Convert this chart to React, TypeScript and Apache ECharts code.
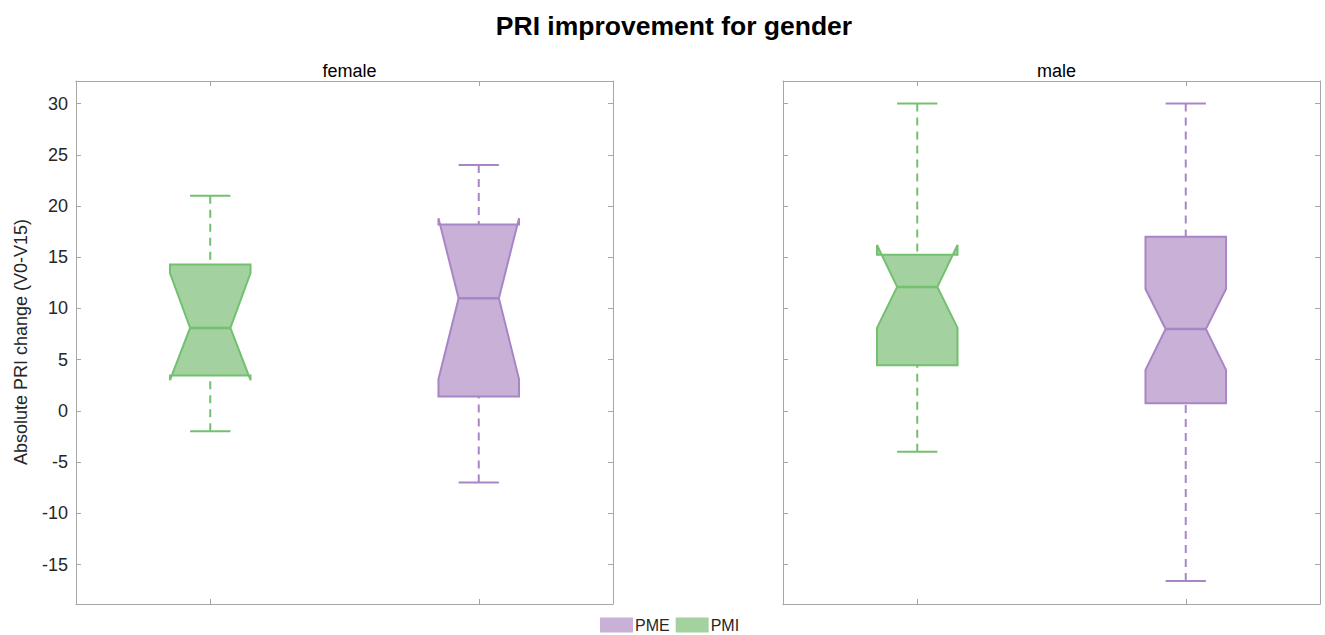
import React, { useEffect, useRef } from "react";
import * as echarts from "echarts";

// Box statistics: [whiskerLow, q1, notchLow, median, notchHigh, q3, whiskerHigh]
const groups = ["PMI", "PME"];
const panels = ["female", "male"];
const femalePMI = [-2, 3.45, 3.0, 8.1, 13.45, 14.3, 21];
const femalePME = [-7, 1.4, 3.1, 11.0, 18.8, 18.2, 24];
const malePMI = [-4, 4.45, 8.1, 12.1, 16.2, 15.25, 30];
const malePME = [-16.6, 0.75, 4.0, 8.0, 11.9, 17.0, 30];
const yMin = -18.85;
const yMax = 32.2;

const GREEN_FILL = "#a3d2a0";
const GREEN_LINE = "#73c06f";
const PURPLE_FILL = "#c8b0d6";
const PURPLE_LINE = "#a886c6";
const FRAME = "#a6a6a6";
const TEXT = "#262626";

function makeRender(fill: string, stroke: string) {
  return (params: any, api: any) => {
    const cat = api.value(0);
    const wLo = api.value(1);
    const q1 = api.value(2);
    const nLo = api.value(3);
    const med = api.value(4);
    const nHi = api.value(5);
    const q3 = api.value(6);
    const wHi = api.value(7);
    const band = api.size([1, 0])[0];
    const half = band * 0.15;
    const nh = half / 2;
    const cx = api.coord([cat, med])[0];
    const y = (v: number) => api.coord([cat, v])[1];
    const pts = [
      [cx - half, y(q1)],
      [cx - half, y(nLo)],
      [cx - nh, y(med)],
      [cx - half, y(nHi)],
      [cx - half, y(q3)],
      [cx + half, y(q3)],
      [cx + half, y(nHi)],
      [cx + nh, y(med)],
      [cx + half, y(nLo)],
      [cx + half, y(q1)],
    ];
    const dashStyle = { stroke, lineWidth: 2, lineDash: [8, 6], fill: null };
    const solid = { stroke, lineWidth: 2, fill: null };
    return {
      type: "group",
      children: [
        { type: "line", shape: { x1: cx, y1: y(wHi), x2: cx, y2: y(q3) }, style: dashStyle },
        { type: "line", shape: { x1: cx, y1: y(wLo), x2: cx, y2: y(q1) }, style: dashStyle },
        { type: "line", shape: { x1: cx - nh, y1: y(wHi), x2: cx + nh, y2: y(wHi) }, style: solid },
        { type: "line", shape: { x1: cx - nh, y1: y(wLo), x2: cx + nh, y2: y(wLo) }, style: solid },
        { type: "polygon", shape: { points: pts }, style: { fill, stroke, lineWidth: 2, lineJoin: "miter" } },
        { type: "line", shape: { x1: cx - nh, y1: y(med), x2: cx + nh, y2: y(med) }, style: { stroke, lineWidth: 2.5 } },
      ],
    };
  };
}

function catAxis(gridIndex: number, position: string) {
  return {
    type: "category",
    gridIndex,
    position,
    data: groups,
    boundaryGap: true,
    axisLine: { show: true, onZero: false, lineStyle: { color: FRAME, width: 1 } },
    axisTick: { show: true, inside: true, alignWithLabel: true, length: 5, lineStyle: { color: FRAME } },
    axisLabel: { show: false },
    splitLine: { show: false },
  };
}

function valAxis(gridIndex: number, position: string, labels: boolean) {
  return {
    type: "value",
    gridIndex,
    position,
    min: yMin,
    max: yMax,
    splitNumber: 10,
    axisLine: { show: true, onZero: false, lineStyle: { color: FRAME, width: 1 } },
    axisTick: { show: true, inside: true, length: 5, lineStyle: { color: FRAME } },
    axisLabel: {
      show: labels,
      showMinLabel: false,
      showMaxLabel: false,
      margin: 8,
      color: TEXT,
      fontSize: 18,
      fontFamily: "Liberation Sans, Arial, sans-serif",
      formatter: (v: number) => (Math.abs(v % 5) < 1e-6 ? String(v) : ""),
    },
    splitLine: { show: false },
  };
}

export default function App() {
  const ref = useRef<HTMLDivElement>(null);
  useEffect(() => {
    if (!ref.current) return;
    const chart = echarts.init(ref.current, null, { renderer: "svg" });
    const font = "Liberation Sans, Arial, sans-serif";
    const mk = (name: string, idx: number, axis: number, vals: number[], fill: string, stroke: string) => ({
      type: "custom",
      name,
      xAxisIndex: axis,
      yAxisIndex: axis,
      itemStyle: { color: fill },
      renderItem: makeRender(fill, stroke),
      encode: { x: 0, y: [1, 2, 3, 4, 5, 6, 7] },
      data: [[idx, ...vals]],
      z: 2,
    });
    chart.setOption({
      animation: false,
      backgroundColor: "#ffffff",
      title: [
        {
          text: "PRI improvement for gender",
          left: 669,
          top: 7,
          textAlign: "center",
          textStyle: { fontSize: 26.5, fontWeight: "bold", color: "#000", fontFamily: font },
        },
        {
          text: panels[0],
          left: 344.5,
          top: 57,
          textAlign: "center",
          textStyle: { fontSize: 18, fontWeight: "normal", color: "#000", fontFamily: font },
        },
        {
          text: panels[1],
          left: 1051.5,
          top: 57,
          textAlign: "center",
          textStyle: { fontSize: 18, fontWeight: "normal", color: "#000", fontFamily: font },
        },
      ],
      legend: {
        left: 600,
        top: 617,
        padding: 0,
        icon: "rect",
        itemWidth: 33,
        itemHeight: 15,
        itemGap: 6,
        textStyle: { fontSize: 16, lineHeight: 16, color: TEXT, fontFamily: font, padding: [0, 0, 0, -3] },
        data: [
          { name: "PME", itemStyle: { color: PURPLE_FILL, borderWidth: 0 } },
          { name: "PMI", itemStyle: { color: GREEN_FILL, borderWidth: 0 } },
        ],
      },
      grid: [
        { left: 76, top: 81, width: 537, height: 523 },
        { left: 783, top: 81, width: 537, height: 523 },
      ],
      xAxis: [catAxis(0, "bottom"), catAxis(0, "top"), catAxis(1, "bottom"), catAxis(1, "top")],
      yAxis: [valAxis(0, "left", true), valAxis(0, "right", false), valAxis(1, "left", false), valAxis(1, "right", false)],
      graphic: [
        {
          type: "text",
          x: 21,
          y: 342,
          rotation: Math.PI / 2,
          style: {
            text: "Absolute PRI change (V0-V15)",
            fontSize: 18,
            fontFamily: font,
            fill: TEXT,
            textAlign: "center",
            textVerticalAlign: "middle",
          },
        },
      ],
      series: [
        mk("PMI", 0, 0, femalePMI, GREEN_FILL, GREEN_LINE),
        mk("PME", 1, 0, femalePME, PURPLE_FILL, PURPLE_LINE),
        mk("PMI", 0, 2, malePMI, GREEN_FILL, GREEN_LINE),
        mk("PME", 1, 2, malePME, PURPLE_FILL, PURPLE_LINE),
      ],
    });
    return () => chart.dispose();
  }, []);
  return (
    <div
      ref={ref}
      style={{ position: "fixed", left: 0, top: 0, width: 1325, height: 635 }}
    />
  );
}
